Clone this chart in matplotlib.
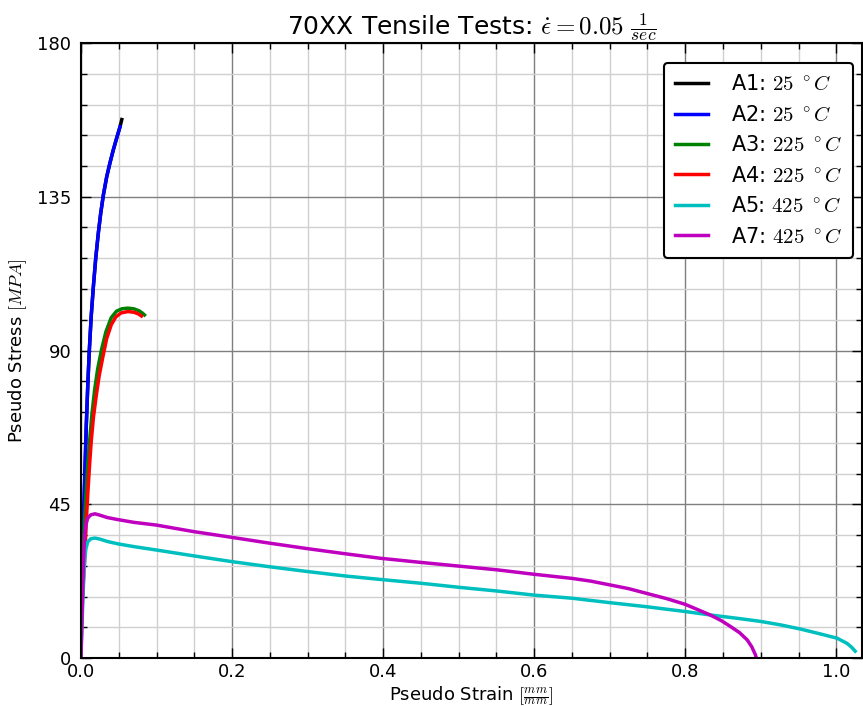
import matplotlib
matplotlib.use('Agg')
import matplotlib.pyplot as plt
from matplotlib.ticker import MultipleLocator

plt.rcParams['mathtext.fontset'] = 'cm'

# ---- data (strain, stress) ----
a1_x = [0.0, 0.0004, 0.002, 0.004, 0.0055, 0.007, 0.009, 0.011, 0.0135, 0.0163, 0.0195,
        0.023, 0.026, 0.0296, 0.034, 0.038, 0.0425, 0.047, 0.0517, 0.054]
a1_y = [0.0, 20.0, 33.0, 45.0, 57.0, 68.0, 80.0, 90.0, 100.0, 108.5, 117.0,
        124.5, 130.0, 135.5, 140.8, 144.6, 148.5, 152.0, 155.5, 157.6]

a2_x = [0.0, 0.0004, 0.002, 0.004, 0.0055, 0.007, 0.009, 0.011, 0.0135, 0.0163, 0.0195,
        0.023, 0.026, 0.0296, 0.034, 0.038, 0.0425, 0.047, 0.0517]
a2_y = [0.0, 20.0, 33.0, 45.0, 57.0, 68.0, 80.0, 90.0, 100.0, 108.5, 117.0,
        124.5, 130.0, 135.5, 140.8, 144.6, 148.5, 152.0, 155.5]

a3_x = [0.0, 0.0015, 0.0027, 0.0045, 0.007, 0.009, 0.0115, 0.0145, 0.018, 0.022, 0.027,
        0.033, 0.040, 0.047, 0.054, 0.062, 0.070, 0.077, 0.081, 0.084]
a3_y = [0.0, 18.0, 29.6, 40.0, 49.2, 57.0, 63.8, 71.5, 78.4, 84.5, 90.1,
        95.5, 99.6, 101.5, 102.2, 102.4, 102.2, 101.6, 101.0, 100.4]

a4_x = [0.0, 0.0005, 0.0025, 0.005, 0.007, 0.0093, 0.0115, 0.0137, 0.0165, 0.020, 0.024,
        0.029, 0.034, 0.040, 0.046, 0.053, 0.062, 0.070, 0.076, 0.080]
a4_y = [0.0, 10.0, 20.0, 29.6, 40.0, 49.2, 57.0, 63.8, 70.5, 76.5, 82.5,
        88.2, 93.5, 97.5, 99.8, 101.0, 101.4, 101.2, 100.7, 100.1]

a5_x = [0.0, 0.001, 0.002, 0.003, 0.004, 0.005, 0.0065, 0.009, 0.013, 0.0185, 0.025, 0.035,
        0.049, 0.070, 0.100, 0.149, 0.200, 0.250, 0.300, 0.350, 0.396, 0.449, 0.500,
        0.551, 0.600, 0.650, 0.700, 0.749, 0.800, 0.833, 0.873, 0.900, 0.926, 0.952,
        0.976, 1.001, 1.014, 1.020, 1.025]
a5_y = [0.0, 8.0, 14.0, 20.0, 25.0, 29.0, 32.0, 34.0, 34.9, 35.1, 34.8, 34.1,
        33.4, 32.6, 31.6, 29.9, 28.2, 26.7, 25.3, 24.0, 23.0, 21.9, 20.7,
        19.6, 18.4, 17.5, 16.2, 15.0, 13.6, 12.6, 11.5, 10.7, 9.7, 8.5,
        7.2, 5.8, 4.3, 3.2, 2.0]

a7_x = [0.0, 0.001, 0.002, 0.003, 0.004, 0.005, 0.0065, 0.009, 0.013, 0.0185, 0.025, 0.035,
        0.049, 0.070, 0.100, 0.149, 0.200, 0.250, 0.300, 0.350, 0.396, 0.449, 0.500,
        0.551, 0.600, 0.650, 0.675, 0.700, 0.725, 0.749, 0.775, 0.800, 0.815, 0.833,
        0.848, 0.860, 0.872, 0.882, 0.888, 0.893, 0.894]
a7_y = [0.0, 10.0, 18.0, 26.0, 32.0, 36.0, 39.0, 41.0, 41.9, 42.2, 41.8, 41.1,
        40.5, 39.7, 38.9, 37.0, 35.3, 33.6, 32.0, 30.5, 29.2, 28.0, 26.9,
        25.8, 24.5, 23.3, 22.5, 21.4, 20.3, 18.9, 17.4, 15.7, 14.3, 12.6,
        10.9, 9.2, 7.4, 5.3, 3.3, 0.9, 0.0]

series = [
    (a1_x, a1_y, 'k', r'A1: $25\ ^\circ C$'),
    (a2_x, a2_y, 'b', r'A2: $25\ ^\circ C$'),
    (a3_x, a3_y, 'g', r'A3: $225\ ^\circ C$'),
    (a4_x, a4_y, 'r', r'A4: $225\ ^\circ C$'),
    (a5_x, a5_y, 'c', r'A5: $425\ ^\circ C$'),
    (a7_x, a7_y, 'm', r'A7: $425\ ^\circ C$'),
]

# ---- figure ----
W, H = 863, 706
fig = plt.figure(figsize=(W / 100, H / 100), dpi=100)
ax = fig.add_axes([81 / W, 1 - 658 / H, 781 / W, 615 / H])

for x, y, c, lab in series:
    ax.plot(x, y, color=c, lw=2.5, label=lab)

ax.set_xlim(0, 1.034)
ax.set_ylim(0, 180)
ax.xaxis.set_major_locator(MultipleLocator(0.2))
ax.xaxis.set_minor_locator(MultipleLocator(0.05))
ax.yaxis.set_major_locator(MultipleLocator(45))
ax.yaxis.set_minor_locator(MultipleLocator(9))
ax.set_xticks([0.0, 0.2, 0.4, 0.6, 0.8, 1.0])
ax.set_xticklabels(['0.0', '0.2', '0.4', '0.6', '0.8', '1.0'])

ax.grid(which='major', color='#7f7f7f', lw=1.0)
ax.grid(which='minor', color='#d0d0d0', lw=1.0)
ax.set_axisbelow(True)

ax.tick_params(which='both', direction='in', top=True, right=True, labelsize=13)
ax.tick_params(which='major', length=7, width=1)
ax.tick_params(which='minor', length=4, width=1)
ax.tick_params(axis='y', pad=7)
for s in ax.spines.values():
    s.set_linewidth(1.5)

ax.set_title(r'70XX Tensile Tests: $\dot{\epsilon}=0.05\ \frac{1}{sec}$', fontsize=18, pad=6)
ax.set_xlabel(r'Pseudo Strain $[\frac{mm}{mm}]$', fontsize=13, labelpad=2)
ax.set_ylabel(r'Pseudo Stress $[MPA]$', fontsize=13, labelpad=6)

leg = ax.legend(loc='upper right', fontsize=15, framealpha=1, fancybox=True,
                handlelength=1.55, handletextpad=1.1, borderpad=0.55,
                borderaxespad=0, bbox_to_anchor=(853 / W, 1 - 63 / H),
                bbox_transform=fig.transFigure)
leg.get_frame().set_edgecolor('k')
leg.get_frame().set_linewidth(1.5)

fig.savefig('out.png', dpi=100)
